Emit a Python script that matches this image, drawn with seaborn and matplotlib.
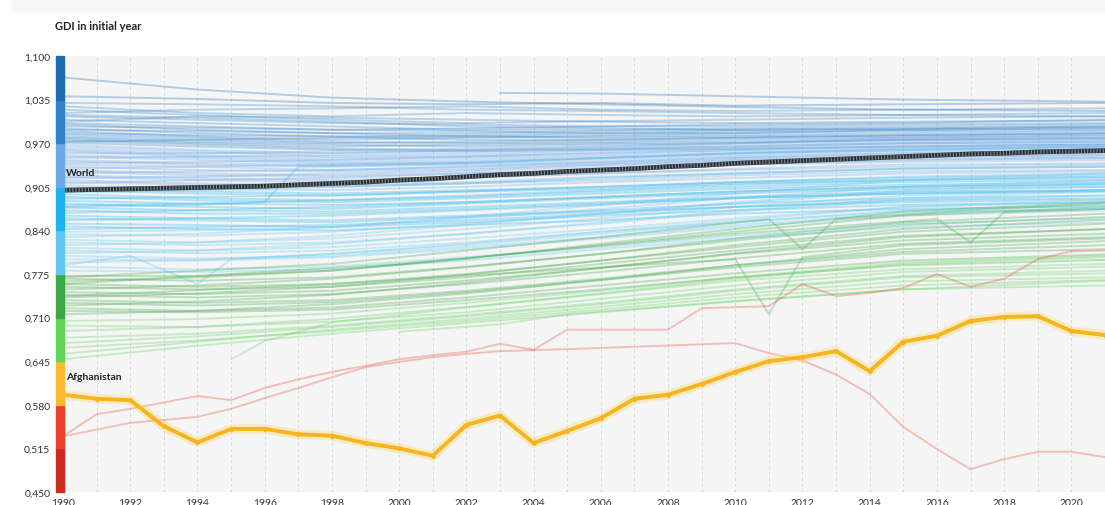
import numpy as np
import pandas as pd
import seaborn as sns
import matplotlib.pyplot as plt
from matplotlib.patches import Rectangle
from matplotlib.ticker import FuncFormatter

# ---- data ----
years = list(range(1990, 2022))
world = [0.900, 0.901, 0.902, 0.903, 0.904, 0.905, 0.906, 0.908, 0.910, 0.912,
         0.915, 0.917, 0.920, 0.923, 0.925, 0.928, 0.930, 0.932, 0.935, 0.937,
         0.940, 0.942, 0.944, 0.946, 0.948, 0.950, 0.952, 0.954, 0.955, 0.957,
         0.958, 0.959]
afghanistan = [0.595, 0.589, 0.587, 0.548, 0.524, 0.544, 0.544, 0.536, 0.534, 0.523,
               0.515, 0.504, 0.550, 0.564, 0.523, 0.541, 0.560, 0.589, 0.595, 0.611,
               0.629, 0.645, 0.651, 0.660, 0.630, 0.674, 0.683, 0.705, 0.711, 0.712,
               0.690, 0.684]

bg_years = [1990, 1994, 1998, 2002, 2006, 2010, 2015, 2021]

lines_top = [
    [1.068, 1.050, 1.038, 1.032, 1.028, 1.024, 1.020, 1.018],
    [1.040, 1.036, 1.030, 1.028, 1.030, 1.026, 1.028, 1.030],
]
lines_high = [
    [1.030, 1.028, 1.025, 1.020, 1.018, 1.015, 1.012, 1.010],
    [1.025, 1.015, 1.010, 1.015, 1.012, 1.010, 1.012, 1.015],
    [1.020, 1.012, 1.005, 1.000, 1.003, 1.005, 1.008, 1.010],
    [1.015, 1.020, 1.022, 1.025, 1.020, 1.018, 1.020, 1.022],
    [1.012, 1.008, 1.002, 0.995, 0.992, 0.990, 0.992, 0.995],
    [1.010, 1.005, 1.000, 0.998, 0.995, 0.995, 0.998, 1.000],
    [1.005, 1.000, 0.995, 0.990, 0.990, 0.992, 0.995, 0.998],
    [1.002, 1.010, 1.008, 1.005, 1.002, 1.000, 1.002, 1.004],
    [1.000, 0.995, 0.990, 0.992, 0.995, 0.998, 1.000, 1.005],
    [0.998, 0.990, 0.985, 0.985, 0.988, 0.990, 0.992, 0.995],
    [0.995, 0.993, 0.990, 0.988, 0.985, 0.985, 0.988, 0.990],
    [0.992, 0.985, 0.980, 0.982, 0.985, 0.988, 0.990, 0.992],
    [0.990, 0.988, 0.985, 0.980, 0.978, 0.980, 0.982, 0.985],
    [0.988, 0.980, 0.975, 0.978, 0.980, 0.982, 0.985, 0.988],
    [0.985, 0.982, 0.980, 0.975, 0.975, 0.978, 0.980, 0.983],
    [0.983, 0.978, 0.972, 0.970, 0.972, 0.975, 0.978, 0.980],
    [0.980, 0.975, 0.970, 0.972, 0.975, 0.978, 0.982, 0.985],
    [0.978, 0.972, 0.968, 0.965, 0.968, 0.970, 0.975, 0.978],
    [0.976, 0.970, 0.965, 0.968, 0.970, 0.972, 0.975, 0.976],
    [0.974, 0.968, 0.962, 0.960, 0.962, 0.965, 0.970, 0.972],
    [0.972, 0.975, 0.978, 0.980, 0.982, 0.985, 0.990, 0.993],
    [0.971, 0.965, 0.960, 0.958, 0.960, 0.962, 0.965, 0.968],
]
lines_mid = [
    [0.968, 0.960, 0.955, 0.958, 0.962, 0.968, 0.972, 0.975],
    [0.965, 0.958, 0.950, 0.952, 0.958, 0.962, 0.968, 0.970],
    [0.962, 0.955, 0.955, 0.960, 0.965, 0.970, 0.975, 0.978],
    [0.960, 0.952, 0.948, 0.950, 0.955, 0.960, 0.965, 0.968],
    [0.958, 0.950, 0.945, 0.948, 0.952, 0.958, 0.962, 0.965],
    [0.955, 0.955, 0.958, 0.962, 0.965, 0.970, 0.978, 0.982],
    [0.952, 0.948, 0.942, 0.945, 0.950, 0.955, 0.960, 0.962],
    [0.950, 0.945, 0.940, 0.942, 0.948, 0.952, 0.958, 0.960],
    [0.948, 0.950, 0.952, 0.955, 0.960, 0.965, 0.970, 0.973],
    [0.945, 0.940, 0.938, 0.940, 0.945, 0.950, 0.955, 0.958],
    [0.943, 0.938, 0.935, 0.938, 0.942, 0.948, 0.952, 0.955],
    [0.940, 0.942, 0.945, 0.950, 0.955, 0.960, 0.965, 0.968],
    [0.938, 0.935, 0.930, 0.935, 0.940, 0.945, 0.950, 0.953],
    [0.935, 0.930, 0.928, 0.932, 0.938, 0.942, 0.948, 0.950],
    [0.932, 0.935, 0.938, 0.942, 0.948, 0.955, 0.962, 0.965],
    [0.930, 0.925, 0.922, 0.928, 0.935, 0.940, 0.945, 0.948],
    [0.928, 0.922, 0.920, 0.925, 0.930, 0.938, 0.942, 0.945],
    [0.925, 0.928, 0.930, 0.935, 0.942, 0.948, 0.955, 0.958],
    [0.922, 0.918, 0.915, 0.920, 0.925, 0.932, 0.938, 0.940],
    [0.920, 0.915, 0.912, 0.918, 0.925, 0.930, 0.935, 0.938],
    [0.918, 0.920, 0.925, 0.930, 0.938, 0.945, 0.950, 0.952],
    [0.915, 0.910, 0.908, 0.912, 0.920, 0.925, 0.932, 0.935],
    [0.912, 0.908, 0.905, 0.910, 0.915, 0.922, 0.928, 0.930],
    [0.910, 0.915, 0.918, 0.925, 0.930, 0.938, 0.945, 0.948],
    [0.907, 0.902, 0.900, 0.905, 0.912, 0.918, 0.925, 0.928],
]
lines_cyan = [
    [0.903, 0.898, 0.895, 0.900, 0.905, 0.912, 0.918, 0.922],
    [0.900, 0.895, 0.892, 0.898, 0.902, 0.910, 0.915, 0.920],
    [0.897, 0.900, 0.905, 0.910, 0.918, 0.925, 0.932, 0.935],
    [0.894, 0.888, 0.885, 0.890, 0.898, 0.905, 0.912, 0.915],
    [0.890, 0.885, 0.882, 0.888, 0.895, 0.902, 0.908, 0.912],
    [0.887, 0.890, 0.892, 0.898, 0.905, 0.912, 0.920, 0.925],
    [0.884, 0.880, 0.878, 0.882, 0.890, 0.898, 0.905, 0.908],
    [0.880, 0.875, 0.872, 0.880, 0.888, 0.895, 0.902, 0.905],
    [0.877, 0.880, 0.885, 0.892, 0.900, 0.908, 0.915, 0.918],
    [0.874, 0.870, 0.868, 0.875, 0.882, 0.890, 0.898, 0.900],
    [0.870, 0.865, 0.865, 0.872, 0.880, 0.888, 0.895, 0.898],
    [0.866, 0.870, 0.875, 0.882, 0.890, 0.898, 0.905, 0.910],
    [0.862, 0.858, 0.855, 0.862, 0.870, 0.880, 0.888, 0.892],
    [0.858, 0.855, 0.852, 0.860, 0.868, 0.875, 0.885, 0.888],
    [0.855, 0.858, 0.862, 0.870, 0.878, 0.888, 0.895, 0.900],
    [0.850, 0.848, 0.845, 0.852, 0.862, 0.870, 0.878, 0.882],
    [0.846, 0.842, 0.840, 0.848, 0.855, 0.865, 0.872, 0.876],
    [0.842, 0.845, 0.848, 0.855, 0.865, 0.875, 0.882, 0.886],
]
lines_lightcyan = [
    [0.838, 0.840, 0.845, 0.858, 0.872, 0.888, 0.905, 0.915],
    [0.834, 0.832, 0.838, 0.850, 0.865, 0.880, 0.898, 0.905],
    [0.830, 0.835, 0.845, 0.860, 0.878, 0.895, 0.915, 0.925],
    [0.826, 0.822, 0.828, 0.842, 0.858, 0.875, 0.892, 0.900],
    [0.822, 0.818, 0.822, 0.835, 0.850, 0.868, 0.885, 0.892],
    [0.818, 0.822, 0.832, 0.848, 0.865, 0.882, 0.900, 0.910],
    [0.814, 0.810, 0.815, 0.828, 0.842, 0.858, 0.875, 0.882],
    [0.810, 0.806, 0.810, 0.822, 0.838, 0.852, 0.870, 0.878],
    [0.806, 0.810, 0.820, 0.835, 0.852, 0.870, 0.888, 0.898],
    [0.802, 0.798, 0.802, 0.815, 0.830, 0.848, 0.865, 0.872],
    [0.797, 0.795, 0.800, 0.812, 0.828, 0.845, 0.862, 0.870],
    [0.792, 0.796, 0.805, 0.820, 0.838, 0.855, 0.875, 0.885],
    [0.786, 0.782, 0.786, 0.800, 0.815, 0.832, 0.850, 0.858],
    [0.780, 0.778, 0.782, 0.795, 0.812, 0.828, 0.845, 0.852],
]
lines_green = [
    [0.772, 0.772, 0.780, 0.798, 0.818, 0.838, 0.862, 0.875],
    [0.768, 0.765, 0.770, 0.786, 0.805, 0.825, 0.848, 0.860],
    [0.764, 0.770, 0.780, 0.798, 0.820, 0.842, 0.868, 0.882],
    [0.760, 0.756, 0.760, 0.775, 0.795, 0.815, 0.838, 0.850],
    [0.756, 0.752, 0.756, 0.770, 0.790, 0.810, 0.832, 0.842],
    [0.752, 0.758, 0.768, 0.785, 0.805, 0.828, 0.852, 0.865],
    [0.748, 0.745, 0.750, 0.765, 0.784, 0.805, 0.825, 0.835],
    [0.744, 0.740, 0.745, 0.760, 0.778, 0.798, 0.820, 0.830],
    [0.740, 0.746, 0.756, 0.774, 0.795, 0.818, 0.842, 0.856],
    [0.736, 0.732, 0.736, 0.750, 0.768, 0.788, 0.808, 0.818],
    [0.732, 0.728, 0.733, 0.748, 0.766, 0.785, 0.805, 0.812],
    [0.728, 0.734, 0.744, 0.762, 0.784, 0.806, 0.830, 0.842],
    [0.724, 0.720, 0.725, 0.740, 0.758, 0.776, 0.795, 0.804],
    [0.720, 0.718, 0.722, 0.736, 0.752, 0.770, 0.788, 0.796],
    [0.715, 0.720, 0.730, 0.746, 0.766, 0.788, 0.812, 0.824],
]
lines_lightgreen = [
    [0.705, 0.708, 0.716, 0.732, 0.750, 0.770, 0.792, 0.802],
    [0.698, 0.696, 0.704, 0.718, 0.738, 0.758, 0.778, 0.786],
    [0.690, 0.696, 0.708, 0.726, 0.746, 0.768, 0.790, 0.800],
    [0.680, 0.686, 0.698, 0.714, 0.732, 0.752, 0.772, 0.780],
    [0.672, 0.682, 0.696, 0.712, 0.730, 0.750, 0.770, 0.776],
    [0.665, 0.676, 0.690, 0.705, 0.722, 0.740, 0.758, 0.766],
    [0.656, 0.674, 0.692, 0.708, 0.726, 0.745, 0.764, 0.770],
    [0.648, 0.668, 0.686, 0.702, 0.718, 0.734, 0.752, 0.758],
]

# lines with their own year sets (late starts, spikes, the two low ones)
odd_lines = [
    ([2003, 2006, 2010, 2015, 2021], [1.045, 1.044, 1.040, 1.035, 1.032]),
    ([1990, 1992, 1994, 1995, 1998, 2002, 2006, 2010, 2015, 2021],
     [0.788, 0.802, 0.760, 0.797, 0.805, 0.818, 0.835, 0.852, 0.868, 0.872]),
    ([1990, 1994, 1996, 1997, 2002, 2010, 2021],
     [0.875, 0.878, 0.882, 0.935, 0.940, 0.955, 0.965]),
    ([1990, 1998, 2006, 2010, 2011, 2012, 2015, 2021],
     [0.742, 0.760, 0.785, 0.797, 0.715, 0.800, 0.818, 0.828]),
    ([1990, 1998, 2006, 2011, 2012, 2013, 2017, 2021],
     [0.770, 0.790, 0.830, 0.857, 0.812, 0.857, 0.870, 0.880]),
    ([1990, 2000, 2010, 2016, 2017, 2018, 2021],
     [0.760, 0.790, 0.835, 0.857, 0.822, 0.867, 0.872]),
    ([1995, 1996, 1997, 1998, 2002, 2006, 2010, 2015, 2021],
     [0.648, 0.675, 0.689, 0.703, 0.725, 0.745, 0.765, 0.782, 0.790]),
    ([2000, 2003, 2005, 2010, 2015, 2021],
     [0.689, 0.700, 0.715, 0.735, 0.752, 0.765]),
    ([1990, 1991, 1992, 1994, 1995, 1996, 1997, 1998, 1999, 2000, 2001, 2002,
      2003, 2004, 2005, 2008, 2009, 2011, 2012, 2013, 2014, 2015, 2016, 2017,
      2018, 2019, 2020, 2021],
     [0.533, 0.566, 0.574, 0.593, 0.587, 0.605, 0.618, 0.629, 0.638, 0.648,
      0.654, 0.659, 0.671, 0.662, 0.692, 0.692, 0.724, 0.727, 0.760, 0.742,
      0.747, 0.754, 0.775, 0.756, 0.768, 0.797, 0.809, 0.810]),
    ([1990, 1992, 1994, 1995, 1996, 1997, 1998, 1999, 2000, 2001, 2002, 2003,
      2005, 2010, 2011, 2012, 2013, 2014, 2015, 2016, 2017, 2018, 2019, 2020, 2021],
     [0.533, 0.553, 0.562, 0.574, 0.590, 0.605, 0.621, 0.636, 0.644, 0.651,
      0.656, 0.660, 0.663, 0.672, 0.657, 0.646, 0.625, 0.596, 0.547, 0.514,
      0.484, 0.499, 0.510, 0.510, 0.502]),
]

band_edges = [0.450, 0.515, 0.580, 0.645, 0.710, 0.775, 0.840, 0.905, 0.970, 1.035, 1.100]
band_colors = ["#cc2a1e", "#ee3f2f", "#fbbb2c", "#5fd35a", "#3da843",
               "#62c8f2", "#1fb2ef", "#6aa8e8", "#2e83cc", "#1c6cb0"]

# ---- long table for seaborn ----
rows = []


def add_line(name, yrs, vals):
    b = int(np.searchsorted(band_edges, vals[0], side="right") - 1)
    b = min(max(b, 0), 9)
    for y, v in zip(yrs, vals):
        rows.append({"country": name, "year": y, "gdi": v, "band": f"b{b}"})


n = 0
for group in [lines_top, lines_high, lines_mid, lines_cyan,
              lines_lightcyan, lines_green, lines_lightgreen]:
    for vals in group:
        add_line(f"c{n}", bg_years, vals)
        n += 1
for yrs, vals in odd_lines:
    add_line(f"c{n}", yrs, vals)
    n += 1
bg = pd.DataFrame(rows)
palette = {f"b{i}": c for i, c in enumerate(band_colors)}

# ---- plot ----
sns.set_theme(style="white")
plt.rcParams["font.family"] = ["Lato", "DejaVu Sans"]

fig = plt.figure(figsize=(11.05, 5.06), dpi=100)
ax = fig.add_axes([63 / 1105, 13 / 506, 1042 / 1105, 436 / 506])
ax.set_facecolor("#f5f5f5")

sns.lineplot(data=bg, x="year", y="gdi", units="country", estimator=None,
             hue="band", palette=palette, linewidth=1.4, alpha=0.3,
             legend=False, ax=ax, zorder=2)

# World
sns.lineplot(x=years, y=world, color="#2b3035", linewidth=3.4, ax=ax, zorder=5)
ax.plot(years, world, color="#868d93", linewidth=3.0, dashes=(0.25, 0.5),
        solid_capstyle="butt", zorder=6)

# Afghanistan
sns.lineplot(x=years, y=afghanistan, color="#fbd35a", linewidth=7, alpha=0.3,
             ax=ax, zorder=5)
sns.lineplot(x=years, y=afghanistan, color="#f6b51c", linewidth=2.8,
             marker="o", markersize=3.5, markeredgewidth=0, ax=ax, zorder=6)

ax.text(1990.1, 0.927, "World", fontsize=7.5, fontweight="bold",
        color="#222222", va="center", zorder=7)
ax.text(1990.1, 0.6215, "Afghanistan", fontsize=7.5, fontweight="bold",
        color="#222222", va="center", zorder=7)

ax.set_xlim(1990, 1990 + 1042 / 34)
ax.set_ylim(0.45, 1.10)
ax.set_xticks(list(range(1990, 2021, 2)))
ax.set_xticks(list(range(1990, 2022)), minor=True)
ax.set_yticks([round(0.45 + 0.065 * i, 3) for i in range(11)])
ax.yaxis.set_major_formatter(FuncFormatter(lambda v, p: f"{v:.3f}".replace(".", ",")))
ax.grid(axis="x", which="both", color="#d9d9d9", linewidth=0.7,
        linestyle=(0, (3, 3)), zorder=1)
ax.set_axisbelow(True)
ax.tick_params(axis="both", which="both", length=0, labelsize=7.5,
               labelcolor="#333333")
ax.tick_params(axis="y", pad=9)
ax.tick_params(axis="x", pad=4)
ax.set_xlabel("")
ax.set_ylabel("")
for s in ax.spines.values():
    s.set_visible(False)

# colour key on the y axis
for i, c in enumerate(band_colors):
    ax.add_patch(Rectangle((-7 / 1042, band_edges[i]), 8 / 1042, 0.065,
                           transform=ax.get_yaxis_transform(), color=c,
                           clip_on=False, zorder=8))

fig.add_artist(Rectangle((11 / 1105, 1 - 13 / 506), 1, 13 / 506,
                         transform=fig.transFigure, color="#f7f7f7", zorder=-1))
fig.text(55 / 1105, 1 - 27 / 506, "GDI in initial year", fontsize=8,
         fontweight="bold", color="#222222", va="center")

fig.savefig("out.png", dpi=100)
plt.close(fig)
